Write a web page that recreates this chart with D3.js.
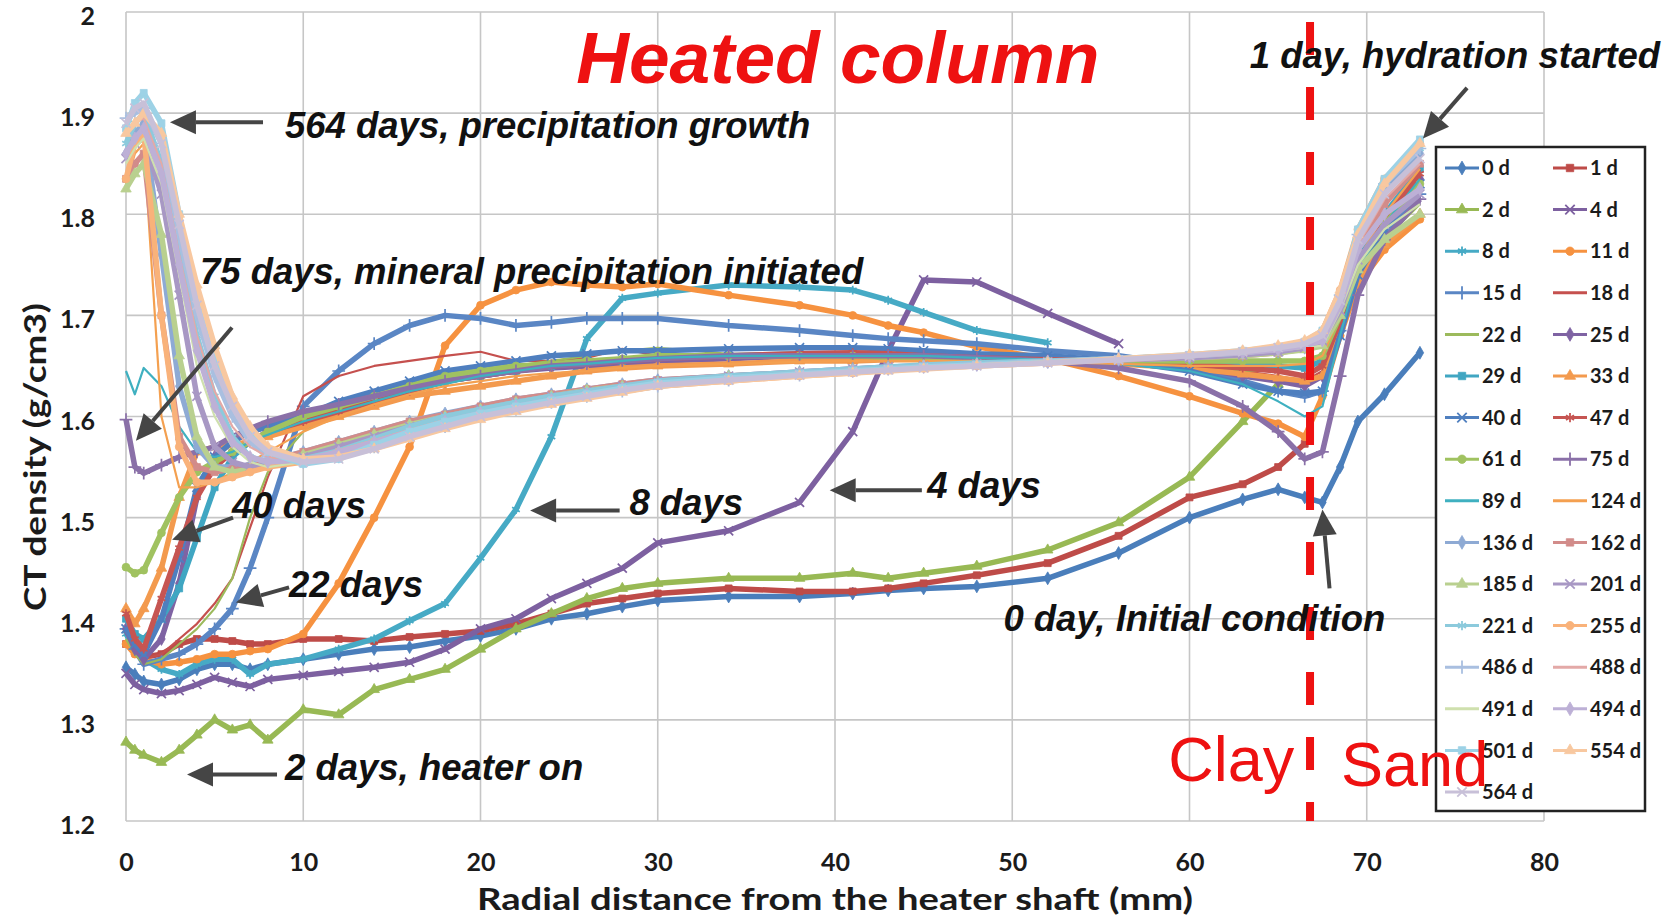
<!DOCTYPE html>
<html lang="en">
<head>
<meta charset="UTF-8">
<title>Heated column - CT density</title>
<style>
  body { margin: 0; background: #fff; }
  svg { display: block; }
</style>
</head>
<body>
<svg id="chart" width="1666" height="924"></svg>
<script src="https://d3js.org/d3.v7.min.js"></script>
<script>
// radial distance from the heater shaft (mm), shared by every scan
const distMM = [0, 0.5, 1, 2, 3, 4, 5, 6, 7, 8,
  10, 12, 14, 16, 18, 20, 22, 24, 26, 28,
  30, 34, 38, 41, 43, 45, 48, 52, 56, 60,
  63, 65, 66.5, 67.5, 68.5, 69.5, 71, 73];

// CT density (g/cm3) per scan day
const d0 = [1.352,1.345,1.338,1.335,1.34,1.35,1.355,1.355,1.35,1.355,
  1.36,1.365,1.37,1.372,1.378,1.383,1.39,1.40,1.405,1.412,
  1.418,1.422,1.422,1.425,1.428,1.43,1.432,1.44,1.465,1.50,
  1.518,1.528,1.52,1.515,1.55,1.595,1.622,1.663];
const d1 = [1.375,1.37,1.362,1.365,1.375,1.38,1.38,1.378,1.375,1.375,
  1.38,1.38,1.378,1.382,1.385,1.388,1.395,1.405,1.415,1.42,
  1.425,1.43,1.427,1.427,1.43,1.435,1.443,1.455,1.482,1.52,
  1.533,1.55,1.573,null,null,null,null,null];
const d2 = [1.278,1.27,1.265,1.258,1.27,1.285,1.30,1.29,1.295,1.28,
  1.31,1.305,1.33,1.34,1.35,1.37,1.39,1.405,1.42,1.43,
  1.435,1.44,1.44,1.445,1.44,1.445,1.452,1.468,1.495,1.54,
  1.595,1.632,null,null,null,null,null,null];
const d4 = [1.346,1.335,1.33,1.326,1.329,1.335,1.342,1.337,1.333,1.34,
  1.344,1.348,1.352,1.357,1.37,1.39,1.40,1.42,1.435,1.45,
  1.475,1.487,1.515,1.585,1.665,1.735,1.733,1.702,1.672,null,
  null,null,null,null,null,null,null,null];
const d8 = [1.385,1.37,1.36,1.35,1.345,1.355,1.36,1.36,1.345,1.355,
  1.36,1.37,1.38,1.398,1.415,1.46,1.508,1.58,1.677,1.717,
  1.722,1.73,1.728,1.725,1.715,1.703,1.685,1.673,null,null,
  null,null,null,null,null,null,null,null];
const d11 = [1.375,1.365,1.36,1.355,1.357,1.36,1.365,1.365,1.368,1.37,
  1.385,1.435,1.50,1.57,1.67,1.71,1.725,1.733,1.73,1.728,
  1.731,1.72,1.71,1.70,1.69,1.683,1.669,1.657,1.64,1.62,
  1.603,1.593,1.58,1.62,1.68,1.73,1.765,1.795];
const d15 = [1.39,1.37,1.355,1.36,1.365,1.375,1.39,1.41,1.45,1.50,
  1.61,1.645,1.672,1.69,1.70,1.697,1.69,1.693,1.697,1.697,
  1.697,1.69,1.685,1.68,1.677,1.675,1.672,1.665,1.66,1.65,
  1.635,1.625,1.62,1.625,1.685,1.74,1.78,1.82];
const d18 = [1.40,1.375,1.36,1.365,1.38,1.395,1.415,1.44,1.49,1.54,
  1.62,1.64,1.65,1.655,1.66,1.664,1.655,1.655,1.658,1.667,
  1.66,1.66,1.658,1.66,1.663,1.662,1.66,1.657,1.655,1.65,
  1.645,1.64,1.635,1.645,1.69,1.745,1.785,1.83];
const d22 = [1.38,1.365,1.355,1.36,1.375,1.39,1.41,1.44,1.50,1.545,
  1.585,1.605,1.62,1.63,1.64,1.645,1.65,1.655,1.66,1.665,
  1.668,1.662,1.662,1.66,1.66,1.658,1.655,1.655,1.652,1.648,
  1.645,1.645,1.64,1.65,1.69,1.74,1.775,1.81];
const d25 = [1.39,1.37,1.36,1.38,1.435,1.52,1.56,1.575,1.585,1.59,
  1.60,1.61,1.62,1.628,1.635,1.64,1.645,1.648,1.65,1.652,
  1.655,1.657,1.66,1.66,1.66,1.66,1.658,1.656,1.654,1.65,
  1.64,1.635,1.63,1.64,1.69,1.75,1.79,1.835];
const d29 = [1.40,1.385,1.38,1.40,1.43,1.48,1.53,1.56,1.575,1.585,
  1.595,1.605,1.615,1.625,1.635,1.64,1.645,1.65,1.655,1.655,
  1.658,1.66,1.662,1.662,1.66,1.66,1.658,1.656,1.655,1.655,
  1.652,1.65,1.648,1.655,1.70,1.76,1.80,1.845];
const d33 = [1.41,1.395,1.41,1.45,1.52,1.565,1.57,1.572,1.575,1.58,
  1.59,1.60,1.61,1.62,1.625,1.63,1.635,1.64,1.645,1.648,
  1.65,1.652,1.655,1.655,1.656,1.656,1.655,1.654,1.652,1.648,
  1.642,1.638,1.635,1.64,1.69,1.735,1.77,1.80];
const d40 = [1.39,1.375,1.365,1.40,1.46,1.53,1.56,1.575,1.585,1.59,
  1.60,1.615,1.625,1.635,1.645,1.65,1.655,1.66,1.662,1.665,
  1.665,1.667,1.668,1.668,1.667,1.665,1.662,1.66,1.655,1.645,
  1.632,1.625,1.623,1.625,1.68,1.74,1.785,1.83];
const d47 = [1.405,1.38,1.37,1.42,1.47,1.52,1.55,1.565,1.575,1.585,
  1.595,1.605,1.615,1.625,1.635,1.64,1.645,1.65,1.652,1.655,
  1.657,1.66,1.662,1.663,1.662,1.66,1.658,1.656,1.655,1.652,
  1.648,1.645,1.64,1.65,1.695,1.75,1.795,1.84];
const d61 = [1.451,1.445,1.448,1.485,1.52,1.545,1.555,1.565,1.575,1.585,
  1.60,1.61,1.62,1.63,1.64,1.645,1.65,1.652,1.655,1.657,
  1.66,1.66,1.66,1.66,1.658,1.657,1.656,1.655,1.655,1.655,
  1.655,1.655,1.655,1.66,1.70,1.75,1.79,1.83];
const d75 = [1.597,1.55,1.544,1.552,1.56,1.565,1.57,1.58,1.588,1.595,
  1.605,1.612,1.62,1.628,1.635,1.64,1.645,1.65,1.652,1.655,
  1.657,1.66,1.66,1.66,1.66,1.66,1.658,1.655,1.648,1.635,
  1.61,1.585,1.558,1.565,1.64,1.72,1.775,1.815];
const d89 = [1.645,1.622,1.648,1.63,1.59,1.565,1.56,1.565,1.575,1.582,
  1.595,1.605,1.615,1.625,1.632,1.64,1.645,1.65,1.652,1.655,
  1.658,1.66,1.66,1.66,1.66,1.66,1.658,1.656,1.652,1.645,
  1.632,1.615,1.60,1.61,1.68,1.745,1.79,1.835];
const d124 = [1.83,1.86,1.87,1.60,1.53,1.53,1.535,1.545,1.555,1.565,
  1.585,1.60,1.612,1.622,1.63,1.635,1.64,1.643,1.645,1.648,
  1.65,1.652,1.654,1.655,1.655,1.655,1.655,1.654,1.652,1.65,
  1.65,1.65,1.652,1.66,1.70,1.755,1.80,1.845];
const d136 = [1.86,1.88,1.89,1.76,1.63,1.57,1.55,1.55,1.552,1.556,
  1.565,1.575,1.585,1.595,1.603,1.61,1.617,1.622,1.627,1.632,
  1.636,1.64,1.644,1.647,1.649,1.65,1.652,1.654,1.656,1.658,
  1.661,1.664,1.668,1.675,1.715,1.775,1.825,1.86];
const d162 = [1.835,1.85,1.86,1.70,1.58,1.55,1.545,1.548,1.55,1.555,
  1.565,1.575,1.585,1.595,1.602,1.61,1.617,1.622,1.627,1.632,
  1.636,1.64,1.643,1.646,1.648,1.65,1.652,1.654,1.656,1.658,
  1.66,1.663,1.667,1.675,1.71,1.765,1.81,1.85];
const d185 = [1.825,1.84,1.85,1.78,1.66,1.58,1.55,1.545,1.548,1.552,
  1.562,1.572,1.582,1.592,1.60,1.607,1.614,1.62,1.626,1.63,
  1.634,1.64,1.643,1.646,1.648,1.65,1.652,1.654,1.656,1.658,
  1.66,1.663,1.666,1.67,1.70,1.745,1.775,1.80];
const d201 = [1.855,1.87,1.875,1.82,1.72,1.62,1.57,1.555,1.55,1.552,
  1.56,1.57,1.58,1.59,1.60,1.607,1.614,1.62,1.625,1.63,
  1.635,1.64,1.644,1.647,1.649,1.65,1.652,1.654,1.656,1.658,
  1.661,1.664,1.668,1.675,1.705,1.755,1.79,1.82];
const d221 = [1.87,1.89,1.90,1.85,1.76,1.68,1.62,1.58,1.56,1.555,
  1.558,1.566,1.578,1.59,1.60,1.607,1.614,1.62,1.625,1.63,
  1.635,1.64,1.644,1.647,1.649,1.651,1.653,1.655,1.657,1.66,
  1.663,1.667,1.672,1.68,1.72,1.78,1.83,1.865];
const d255 = [1.835,1.87,1.88,1.70,1.57,1.535,1.535,1.54,1.545,1.55,
  1.555,1.565,1.575,1.585,1.595,1.60,1.607,1.613,1.62,1.625,
  1.63,1.635,1.64,1.643,1.646,1.648,1.65,1.653,1.656,1.66,
  1.664,1.668,1.672,1.685,1.725,1.785,1.835,1.87];
const d486 = [1.895,1.90,1.905,1.87,1.78,1.70,1.64,1.60,1.575,1.56,
  1.555,1.56,1.57,1.58,1.59,1.60,1.607,1.614,1.62,1.625,
  1.63,1.636,1.641,1.645,1.647,1.649,1.651,1.654,1.657,1.66,
  1.664,1.668,1.672,1.68,1.72,1.78,1.83,1.865];
const d488 = [1.88,1.89,1.895,1.85,1.76,1.68,1.625,1.59,1.57,1.56,
  1.555,1.562,1.572,1.582,1.592,1.60,1.607,1.614,1.62,1.625,
  1.63,1.636,1.641,1.644,1.646,1.648,1.65,1.653,1.656,1.659,
  1.662,1.666,1.67,1.675,1.715,1.77,1.815,1.85];
const d491 = [1.85,1.865,1.875,1.83,1.74,1.65,1.60,1.57,1.555,1.55,
  1.555,1.565,1.575,1.585,1.595,1.603,1.61,1.616,1.622,1.627,
  1.632,1.637,1.642,1.645,1.647,1.649,1.651,1.653,1.656,1.659,
  1.662,1.665,1.668,1.67,1.705,1.75,1.785,1.81];
const d494 = [1.86,1.875,1.885,1.84,1.75,1.665,1.61,1.575,1.56,1.555,
  1.557,1.565,1.575,1.585,1.595,1.603,1.61,1.616,1.622,1.627,
  1.632,1.637,1.642,1.645,1.647,1.649,1.651,1.654,1.657,1.66,
  1.663,1.666,1.67,1.675,1.71,1.765,1.80,1.825];
const d501 = [1.885,1.91,1.92,1.89,1.80,1.715,1.66,1.615,1.585,1.565,
  1.553,1.558,1.572,1.585,1.595,1.603,1.61,1.616,1.622,1.628,
  1.633,1.638,1.642,1.645,1.647,1.649,1.651,1.654,1.657,1.661,
  1.665,1.669,1.674,1.685,1.72,1.785,1.835,1.874];
const d554 = [1.88,1.89,1.90,1.88,1.80,1.73,1.67,1.62,1.59,1.57,
  1.558,1.56,1.568,1.578,1.588,1.597,1.605,1.612,1.618,1.624,
  1.63,1.635,1.64,1.643,1.645,1.647,1.65,1.653,1.657,1.661,
  1.665,1.67,1.675,1.685,1.725,1.78,1.83,1.87];
const d564 = [1.89,1.905,1.91,1.87,1.79,1.71,1.65,1.61,1.58,1.565,
  1.555,1.558,1.568,1.58,1.59,1.60,1.607,1.614,1.62,1.626,
  1.631,1.636,1.641,1.644,1.646,1.648,1.65,1.653,1.656,1.66,
  1.664,1.668,1.672,1.68,1.715,1.775,1.82,1.855];

const seriesNames = ['0 d', '1 d', '2 d', '4 d', '8 d', '11 d', '15 d', '18 d',
  '22 d', '25 d', '29 d', '33 d', '40 d', '47 d', '61 d', '75 d', '89 d', '124 d',
  '136 d', '162 d', '185 d', '201 d', '221 d', '255 d', '486 d', '488 d', '491 d',
  '494 d', '501 d', '554 d', '564 d'];
const seriesValues = [d0, d1, d2, d4, d8, d11, d15, d18, d22, d25, d29, d33, d40,
  d47, d61, d75, d89, d124, d136, d162, d185, d201, d221, d255, d486, d488, d491,
  d494, d501, d554, d564];

const xTicks = [0, 10, 20, 30, 40, 50, 60, 70, 80];
const yTicks = [1.2, 1.3, 1.4, 1.5, 1.6, 1.7, 1.8, 1.9, 2.0];

// styling (Excel-like palette and marker cycle)
const seriesColors = ['#4A7EBB', '#BE4B48', '#98B954', '#7D60A0', '#46AAC5', '#F69240',
  '#5A86C4', '#C5504E', '#9CBA5C', '#7F63A3', '#40A6C2', '#F39A4E',
  '#4F7FBF', '#C65552', '#A0C260', '#8A70A8', '#3FB0C0', '#F4A050',
  '#8EAAD4', '#D28C8A', '#B9D08F', '#A898C4', '#8CCADC', '#F9B27A',
  '#A9BFE0', '#E3A9A7', '#CFE0AE', '#BDB0D6', '#9DD2E6', '#F8C8A0', '#C8C0D8'];
const markerCycle = ['diamond', 'square', 'triangle', 'x', 'star', 'circle', 'plus', 'none', 'none'];

const clayX = 66.8;

const notes = [
  { text: '564 days, precipitation growth', x: 8.97, y: 1.875, from: [7.73, 1.891], to: [2.48, 1.891] },
  { text: '75 days, mineral precipitation initiated', x: 4.17, y: 1.731, from: [5.98, 1.688], to: [0.56, 1.576] },
  { text: '40 days', x: 5.98, y: 1.50, from: [6.04, 1.50], to: [2.6, 1.478] },
  { text: '22 days', x: 9.2, y: 1.422, from: [9.2, 1.431], to: [6.2, 1.416] },
  { text: '2 days, heater on', x: 8.97, y: 1.2405, from: [8.52, 1.246], to: [3.44, 1.246] },
  { text: '8 days', x: 28.4, y: 1.503, from: [27.85, 1.507], to: [22.8, 1.507] },
  { text: '4 days', x: 45.2, y: 1.519, from: [44.9, 1.527], to: [39.7, 1.527] },
  { text: '0 day, Initial condition', x: 49.5, y: 1.388, from: [67.9, 1.43], to: [67.5, 1.508] },
  { text: '1 day, hydration started', x: 63.4, y: 1.945, from: [75.66, 1.925], to: [73.17, 1.875] }
];

const svg = d3.select('#chart');
const plot = { left: 126, right: 1544, top: 12, bottom: 821 };

const xScale = d3.scaleLinear().domain([0, 80]).range([plot.left, plot.right]);
const yScale = d3.scaleLinear().domain([1.2, 2.0]).range([plot.bottom, plot.top]);

const labelFont = 'Lato, "Open Sans", sans-serif';
const noteFont = '"Liberation Sans", Arial, sans-serif';

// gridlines
const grid = svg.append('g');
grid.selectAll(null).data(xTicks).join('line')
  .attr('x1', d => xScale(d)).attr('x2', d => xScale(d))
  .attr('y1', plot.top).attr('y2', plot.bottom)
  .attr('stroke', '#c6c6c6').attr('stroke-width', 1.6);
grid.selectAll(null).data(yTicks).join('line')
  .attr('x1', plot.left).attr('x2', plot.right)
  .attr('y1', d => yScale(d)).attr('y2', d => yScale(d))
  .attr('stroke', '#c6c6c6').attr('stroke-width', 1.6);

// axes (labels only)
const xAxis = svg.append('g')
  .attr('transform', `translate(0,${plot.bottom})`)
  .call(d3.axisBottom(xScale).tickValues(xTicks).tickSize(0).tickPadding(32));
xAxis.select('.domain').remove();
xAxis.selectAll('text')
  .attr('font-family', labelFont).attr('font-weight', 700)
  .attr('font-size', 25).attr('fill', '#1b1b1b');

const yAxis = svg.append('g')
  .attr('transform', `translate(${plot.left},0)`)
  .call(d3.axisLeft(yScale).tickValues(yTicks).tickSize(0).tickPadding(31)
    .tickFormat(d => d === 2 ? '2' : d3.format('.1f')(d)));
yAxis.select('.domain').remove();
yAxis.selectAll('text')
  .attr('font-family', labelFont).attr('font-weight', 700)
  .attr('font-size', 25).attr('fill', '#1b1b1b').attr('dy', '0.5em');

// axis titles: the source glyphs are wide, so stretch to the measured length
svg.append('text')
  .attr('x', (plot.left + plot.right) / 2).attr('y', 910)
  .attr('text-anchor', 'middle')
  .attr('font-family', labelFont).attr('font-weight', 700).attr('font-size', 31)
  .attr('textLength', 716).attr('lengthAdjust', 'spacingAndGlyphs')
  .attr('fill', '#1b1b1b')
  .text('Radial distance from the heater shaft (mm)');

svg.append('text')
  .attr('transform', 'translate(46,457) rotate(-90)')
  .attr('text-anchor', 'middle')
  .attr('font-family', labelFont).attr('font-weight', 700).attr('font-size', 31)
  .attr('textLength', 308).attr('lengthAdjust', 'spacingAndGlyphs')
  .attr('fill', '#1b1b1b')
  .text('CT density (g/cm3)');

// series
const symbolFor = {
  diamond: d3.symbolDiamond,
  square: d3.symbolSquare,
  triangle: d3.symbolTriangle,
  circle: d3.symbolCircle,
  x: d3.symbolTimes || d3.symbolCross,
  star: d3.symbolAsterisk || d3.symbolStar,
  plus: d3.symbolPlus || d3.symbolCross
};
const strokeMarkers = new Set(['x', 'star', 'plus']);

const line = d3.line()
  .x(p => xScale(p[0]))
  .y(p => yScale(p[1]));

const seriesLayer = svg.append('g');
seriesValues.forEach((vals, i) => {
  const kind = markerCycle[i % markerCycle.length];
  const color = seriesColors[i];
  const pts = distMM.map((d, j) => [d, vals[j]]).filter(p => p[1] != null);
  const g = seriesLayer.append('g');
  g.append('path')
    .datum(pts)
    .attr('d', line)
    .attr('fill', 'none')
    .attr('stroke', color)
    .attr('stroke-width', kind === 'none' ? 2.2 : 5.5)
    .attr('stroke-linejoin', 'round');
  if (kind !== 'none') {
    const isStroke = strokeMarkers.has(kind);
    g.selectAll(null).data(pts).join('path')
      .attr('transform', p => `translate(${xScale(p[0])},${yScale(p[1])})`)
      .attr('d', d3.symbol(symbolFor[kind], isStroke ? 55 : 48))
      .attr('fill', isStroke ? 'none' : color)
      .attr('stroke', color)
      .attr('stroke-width', isStroke ? 1.7 : 0.8);
  }
});

// clay / sand boundary
svg.append('line')
  .attr('x1', xScale(clayX)).attr('x2', xScale(clayX))
  .attr('y1', yScale(1.99)).attr('y2', yScale(1.2))
  .attr('stroke', '#ee1111').attr('stroke-width', 8)
  .attr('stroke-dasharray', '33 32');

// annotations
const noteLayer = svg.append('g');
notes.forEach(n => {
  const x1 = xScale(n.from[0]), y1 = yScale(n.from[1]);
  const x2 = xScale(n.to[0]), y2 = yScale(n.to[1]);
  const ang = Math.atan2(y2 - y1, x2 - x1);
  const headLen = 26, headHalf = 12;
  const bx = x2 - headLen * Math.cos(ang), by = y2 - headLen * Math.sin(ang);
  noteLayer.append('line')
    .attr('x1', x1).attr('y1', y1).attr('x2', bx).attr('y2', by)
    .attr('stroke', '#454545').attr('stroke-width', 4);
  const px = -Math.sin(ang) * headHalf, py = Math.cos(ang) * headHalf;
  noteLayer.append('polygon')
    .attr('points', [[x2, y2], [bx + px, by + py], [bx - px, by - py]].map(p => p.join(',')).join(' '))
    .attr('fill', '#454545');
  noteLayer.append('text')
    .attr('x', xScale(n.x)).attr('y', yScale(n.y))
    .attr('font-family', noteFont).attr('font-weight', 700).attr('font-style', 'italic')
    .attr('font-size', 36.5).attr('fill', '#111')
    .text(n.text);
});

svg.append('text')
  .attr('x', xScale(25.4)).attr('y', yScale(1.93))
  .attr('font-family', noteFont).attr('font-weight', 700).attr('font-style', 'italic')
  .attr('font-size', 73).attr('fill', '#ee1111')
  .text('Heated column');

// legend
const legend = svg.append('g');
legend.append('rect')
  .attr('x', 1436).attr('y', 147).attr('width', 209).attr('height', 664)
  .attr('fill', '#fff').attr('stroke', '#222').attr('stroke-width', 2.5);
const items = legend.selectAll(null).data(seriesNames).join('g')
  .attr('transform', (d, i) => `translate(${i % 2 ? 1553 : 1445},${168 + Math.floor(i / 2) * 41.6})`);
items.append('line')
  .attr('x1', 0).attr('x2', 34)
  .attr('stroke', (d, i) => seriesColors[i])
  .attr('stroke-width', 3);
items.each(function (d, i) {
  const kind = markerCycle[i % markerCycle.length];
  if (kind === 'none') return;
  const isStroke = strokeMarkers.has(kind);
  d3.select(this).append('path')
    .attr('transform', 'translate(17,0)')
    .attr('d', d3.symbol(symbolFor[kind], isStroke ? 60 : 55))
    .attr('fill', isStroke ? 'none' : seriesColors[i])
    .attr('stroke', seriesColors[i])
    .attr('stroke-width', isStroke ? 1.8 : 0.8);
});
items.append('text')
  .attr('x', 37).attr('dy', '0.36em')
  .attr('font-family', labelFont).attr('font-weight', 700).attr('font-size', 20)
  .attr('fill', '#1b1b1b')
  .text(d => d);

// region labels (drawn over the legend, as in the source figure)
svg.append('text')
  .attr('x', xScale(58.8)).attr('y', yScale(1.2395))
  .attr('font-family', noteFont).attr('font-size', 63).attr('fill', '#ee1111')
  .text('Clay');
svg.append('text')
  .attr('x', xScale(68.55)).attr('y', yScale(1.2346))
  .attr('font-family', noteFont).attr('font-size', 63).attr('fill', '#ee1111')
  .text('Sand');
</script>
</body>
</html>
